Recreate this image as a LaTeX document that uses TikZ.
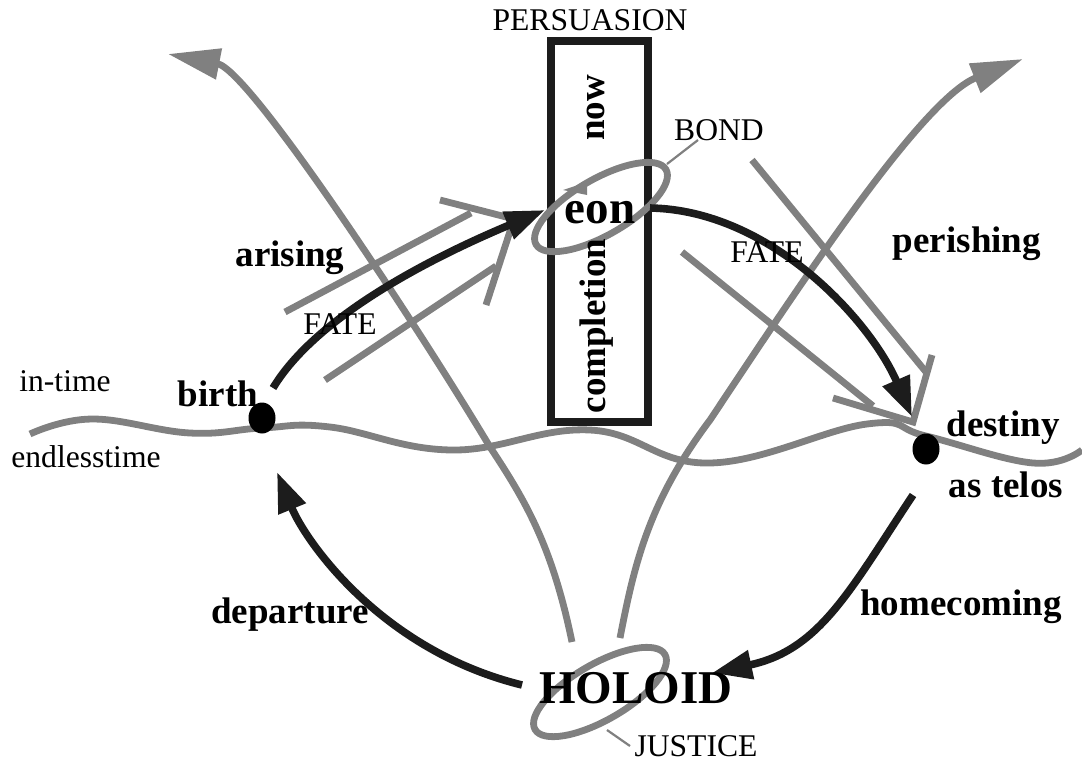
\documentclass[tikz,border=0pt]{standalone}
\usepackage{fontspec}
\setmainfont{Liberation Serif}
\usetikzlibrary{arrows.meta,shapes.geometric}
\definecolor{hgray}{RGB}{128,128,128}
\definecolor{hink}{RGB}{28,28,28}
\tikzset{
  lbl/.style={font=\fontsize{15.8pt}{18pt}\selectfont, inner sep=0pt},
  blbl/.style={font=\fontsize{18.5pt}{21pt}\selectfont\bfseries, inner sep=0pt},
  biglbl/.style={font=\fontsize{23.5pt}{27pt}\selectfont\bfseries, inner sep=0pt},
  tdot/.style={ellipse, fill=black, inner sep=0pt, minimum width=13.5pt, minimum height=15.5pt},
  ring/.style={ellipse, draw=hgray, line width=3.4pt, inner sep=0pt,
    minimum width=75pt, minimum height=28pt, rotate=30},
  thread/.style={draw=hgray, line width=3.4pt},
  garr/.style={thread, -{Triangle[length=26pt,width=15pt]}},
  karr/.style={draw=hink, line width=3.8pt, -{Triangle[length=20pt,width=14pt]}},
  leader/.style={draw=hgray, line width=1.1pt},
  framebox/.style={draw=hink, line width=3.6pt, inner sep=0pt, outer sep=0pt,
    minimum width=48.5pt, minimum height=190.5pt}
}
\begin{document}
\begin{tikzpicture}[x=0.5pt, y=-0.5pt]
  \useasboundingbox (0,0) rectangle (1082,762);
  % endless time
  \draw[thread] plot[smooth, tension=0.7] coordinates {(30,434) (92,419) (190,433)
    (262,428) (330,427) (452,450) (590,430) (710,463) (867,424) (926,436)
    (1033,463) (1082,450)};
  % rings
  \node[ring] (holring) at (600,692) {};
  % threads out of the holoid
  \coordinate (hl) at (572,642);
  \coordinate (hr) at (620,638);
  \coordinate (lt) at (168,54);
  \coordinate (rt) at (1023,59);
  \draw[garr] (hl) .. controls (552,545) and (525,500) .. (490,447)
    .. controls (420,330) and (250,70) .. (lt);
  \draw[garr] (hr) .. controls (635,560) and (650,500) .. (710,420)
    .. controls (790,300) and (920,100) .. (rt);
  % open arrows
  \coordinate (ta) at (514,219);
  \coordinate (tb) at (913,422);
  \draw[thread] (440,200) -- (ta) -- (486,305);
  \draw[thread] (285,312) -- (471,213);
  \draw[thread] (325,380) -- (496,266);
  \draw[thread] (833,398) -- (tb) -- (932,355);
  \draw[thread] (682,252) -- (873,406);
  \draw[thread] (752,160) -- (926,372);
  % box
  \node[framebox] (nowbox) at (599.5,231.5) {};
  \node[ring] (eonring) at (601,207) {};
  \fill[hgray] (563,190) -- (587,182) -- (587,195) -- cycle;
  % dots
  \node[tdot] (bdot) at (262,418) {};
  \node[tdot] (ddot) at (926,449) {};
  % fate arrows
  \coordinate (b1) at (273,388);
  \coordinate (e1) at (545,210);
  \coordinate (e2) at (650,208);
  \coordinate (d1) at (912,417);
  \coordinate (d2) at (913,495);
  \coordinate (h1) at (712,673);
  \coordinate (h2) at (522,685);
  \coordinate (b2) at (277,472);
  \draw[karr] (b1) .. controls (320,310) and (450,250) .. (e1);
  \draw[karr] (e2) .. controls (770,210) and (870,320) .. (d1);
  \draw[karr] (d2) .. controls (850,590) and (820,650) .. (h1);
  \draw[karr] (h2) .. controls (380,650) and (305,540) .. (b2);
  % leaders
  \draw[leader] (667,164) -- (698,140);
  \draw[leader] (607,730) -- (630,746);
  % labels
  \node[lbl] (persuasion) at (590,20) {PERSUASION};
  \node[blbl, rotate=90] (now) at (596,108) {now};
  \node[blbl, rotate=90] (completion) at (597,326) {completion};
  \node[biglbl] (eon) at (600,213) {eon};
  \node[lbl] (bond) at (719,130) {BOND};
  \node[lbl] (fater) at (767,252) {FATE};
  \node[lbl] (fatel) at (340,324) {FATE};
  \node[blbl] (arising) at (290,258) {arising};
  \node[blbl] (perishing) at (967,244) {perishing};
  \node[blbl] (destiny) at (1003,428) {destiny};
  \node[blbl] (telos) at (1006,485) {as telos};
  \node[blbl] (homecoming) at (961,607) {homecoming};
  \node[biglbl] (holoid) at (636,688) {HOLOID};
  \node[lbl] (justice) at (696,746) {JUSTICE};
  \node[blbl] (departure) at (290,615) {departure};
  \node[blbl] (birth) at (218,394) {birth};
  \node[lbl] (intime) at (65,381) {in-time};
  \node[lbl] (endless) at (86,457) {endlesstime};
\end{tikzpicture}
\end{document}
